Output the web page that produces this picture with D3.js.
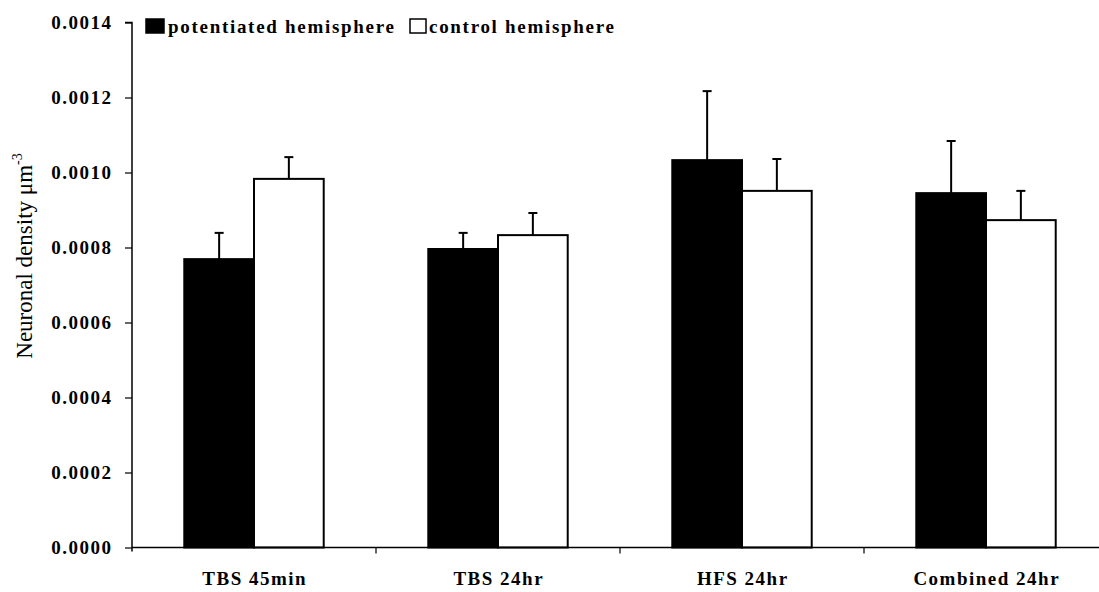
<!DOCTYPE html>
<html>
<head>
<meta charset="utf-8">
<script src="https://cdn.jsdelivr.net/npm/d3@7"></script>
<style>
  html, body { margin: 0; padding: 0; background: #fff; }
  svg { display: block; }
  text { font-family: "Liberation Serif", "Times New Roman", serif; fill: #000; }
</style>
</head>
<body>
<svg id="chart" width="1099" height="592"></svg>
<script>
const categories = ["TBS 45min", "TBS 24hr", "HFS 24hr", "Combined 24hr"];
const seriesNames = ["potentiated hemisphere", "control hemisphere"];
const potentiated = [0.000769, 0.000796, 0.001033, 0.000945];
const potentiatedErr = [0.000070, 0.000043, 0.000184, 0.000139];
const control = [0.000983, 0.000833, 0.000951, 0.000873];
const controlErr = [0.000058, 0.000059, 0.000085, 0.000078];
const yTicks = [0, 0.0002, 0.0004, 0.0006, 0.0008, 0.0010, 0.0012, 0.0014];

(function () {
const svg = d3.select("#chart");
const mLeft = 132, mRight = 1108, mTop = 22.5, mBottom = 547.5;
const FS = "19px", LS = 1.5;

const y = d3.scaleLinear().domain([0, 0.0014]).range([mBottom, mTop]);
const x0 = d3.scaleBand().domain(categories).range([mLeft, mRight]).paddingInner(0).paddingOuter(0);
const x1 = d3.scaleBand().domain(seriesNames).range([0, x0.bandwidth()]).paddingInner(0).paddingOuter(0.75);

const rows = categories.map((c, i) => ({
  cat: c,
  vals: [
    { s: seriesNames[0], v: potentiated[i], e: potentiatedErr[i], fill: "#000" },
    { s: seriesNames[1], v: control[i], e: controlErr[i], fill: "#fff" }
  ]
}));

// bars
const g = svg.append("g");
const grp = g.selectAll("g.cat").data(rows).join("g")
  .attr("class", "cat")
  .attr("transform", d => `translate(${x0(d.cat)},0)`);

grp.selectAll("rect").data(d => d.vals).join("rect")
  .attr("x", d => x1(d.s))
  .attr("y", d => y(d.v))
  .attr("width", x1.bandwidth())
  .attr("height", d => y(0) - y(d.v))
  .attr("fill", d => d.fill)
  .attr("stroke", "#000")
  .attr("stroke-width", 2);

// error bars (upper only)
grp.selectAll("line.err").data(d => d.vals).join("line")
  .attr("class", "err")
  .attr("x1", d => x1(d.s) + x1.bandwidth() / 2)
  .attr("x2", d => x1(d.s) + x1.bandwidth() / 2)
  .attr("y1", d => y(d.v))
  .attr("y2", d => y(d.v + d.e))
  .attr("stroke", "#000").attr("stroke-width", 2);
grp.selectAll("line.cap").data(d => d.vals).join("line")
  .attr("class", "cap")
  .attr("x1", d => x1(d.s) + x1.bandwidth() / 2 - 4.5)
  .attr("x2", d => x1(d.s) + x1.bandwidth() / 2 + 4.5)
  .attr("y1", d => y(d.v + d.e))
  .attr("y2", d => y(d.v + d.e))
  .attr("stroke", "#000").attr("stroke-width", 2);

// y axis
const yAxis = d3.axisLeft(y).tickValues(yTicks).tickSize(7).tickPadding(14)
  .tickFormat(d => d.toFixed(4));
const ya = svg.append("g").attr("transform", `translate(${mLeft},0)`).call(yAxis);
ya.select(".domain").attr("stroke-width", 1.5).attr("d", `M-7,${mTop}H0V${mBottom + 4}`);
ya.selectAll(".tick line").attr("stroke-width", 1.2);
ya.selectAll(".tick text")
  .style("font-family", "'Liberation Serif', 'Times New Roman', serif")
  .style("font-weight", "bold").style("font-size", FS)
  .style("letter-spacing", LS + "px")
  .attr("dx", LS);

// x axis
const xa = svg.append("g").attr("transform", `translate(0,${mBottom})`);
xa.append("line").attr("x1", mLeft).attr("x2", 1099).attr("y1", 0).attr("y2", 0)
  .attr("stroke", "#000").attr("stroke-width", 1.5);
xa.selectAll("line.ct").data(categories.slice(1)).join("line")
  .attr("class", "ct")
  .attr("x1", d => x0(d)).attr("x2", d => x0(d))
  .attr("y1", 0).attr("y2", 6)
  .attr("stroke", "#000").attr("stroke-width", 1.2);
xa.selectAll("text").data(categories).join("text")
  .attr("x", d => x0(d) + x0.bandwidth() / 2 + LS / 2)
  .attr("y", 37)
  .attr("text-anchor", "middle")
  .style("font-weight", "bold").style("font-size", FS)
  .style("letter-spacing", LS + "px")
  .text(d => d);

// y title
const yt = svg.append("text")
  .attr("transform", "translate(32,256) rotate(-90)")
  .attr("text-anchor", "middle")
  .style("font-size", "23px");
yt.append("tspan").text("Neuronal density μm");
yt.append("tspan").attr("dy", -10).style("font-size", "14px").text("-3");

// legend
const legend = svg.append("g");
const lx = [146, 410];
legend.selectAll("rect").data(seriesNames).join("rect")
  .attr("x", (d, i) => lx[i]).attr("y", 19)
  .attr("width", (d, i) => i === 0 ? 18 : 16).attr("height", 14)
  .attr("fill", (d, i) => i === 0 ? "#000" : "#fff")
  .attr("stroke", "#000").attr("stroke-width", 1.5);
legend.selectAll("text").data(seriesNames).join("text")
  .attr("x", (d, i) => lx[i] + (i === 0 ? 22 : 19)).attr("y", 33)
  .style("font-weight", "bold").style("font-size", FS)
  .style("letter-spacing", "1.7px")
  .text(d => d);
})();
</script>
</body>
</html>
